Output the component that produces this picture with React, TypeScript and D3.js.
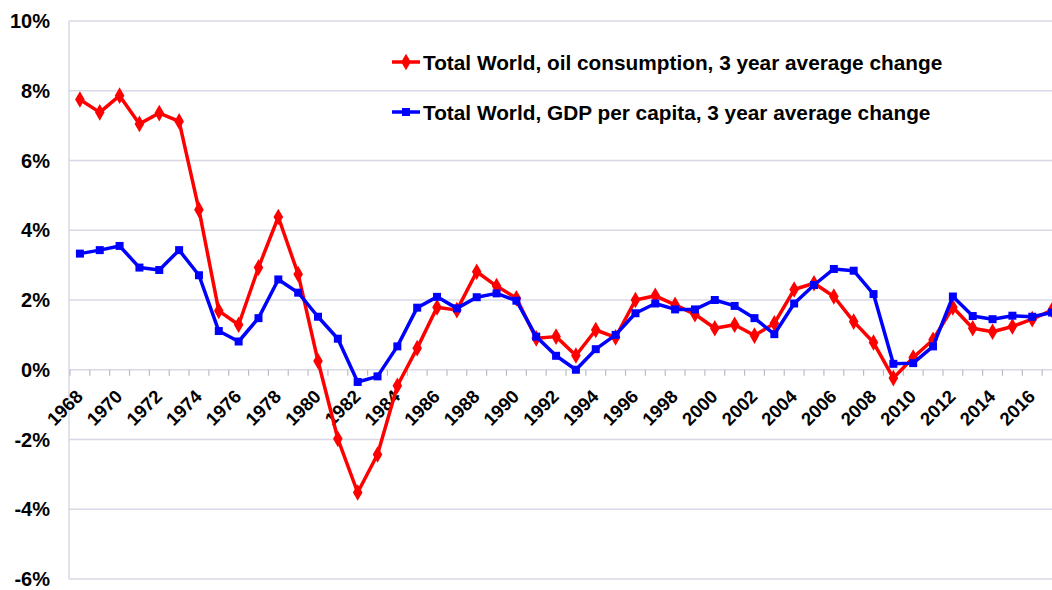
import React, { useEffect, useRef } from 'react';
import * as d3 from 'd3';

const years = d3.range(1968, 2018);

const oilChange = [
  7.75, 7.38, 7.86, 7.05, 7.36, 7.12, 4.59, 1.69, 1.29, 2.93,
  4.38, 2.74, 0.25, -1.98, -3.52, -2.43, -0.46, 0.62, 1.79, 1.71,
  2.81, 2.4, 2.05, 0.9, 0.95, 0.41, 1.14, 0.93, 2.0, 2.12,
  1.86, 1.59, 1.19, 1.29, 0.98, 1.33, 2.3, 2.48, 2.1, 1.38,
  0.78, -0.24, 0.35, 0.86, 1.79, 1.19, 1.09, 1.24, 1.45, 1.71,
];

const gdpChange = [
  3.33, 3.43, 3.55, 2.93, 2.86, 3.43, 2.71, 1.11, 0.81, 1.48,
  2.59, 2.21, 1.52, 0.89, -0.35, -0.19, 0.67, 1.78, 2.09, 1.76,
  2.08, 2.19, 1.98, 0.95, 0.4, 0.0, 0.59, 1.0, 1.62, 1.9,
  1.73, 1.73, 2.0, 1.83, 1.48, 1.02, 1.9, 2.43, 2.89, 2.84,
  2.17, 0.17, 0.19, 0.67, 2.1, 1.54, 1.45, 1.55, 1.52, 1.64,
];

const yTicks = [-6, -4, -2, 0, 2, 4, 6, 8, 10];

const seriesNames = [
  'Total World, oil consumption, 3 year average change',
  'Total World, GDP per capita, 3 year average change',
];

const App: React.FC = () => {
  const svgRef = useRef<SVGSVGElement>(null);

  useEffect(() => {
    document.body.style.margin = '0';
    if (!svgRef.current) return;

    const width = 1052;
    const height = 590;
    const font = '"Liberation Sans", Arial, sans-serif';
    const gridColor = '#d8d8e6';

    const svg = d3.select(svgRef.current);
    svg.selectAll('*').remove();
    svg.attr('width', width).attr('height', height).style('display', 'block').style('background', '#fff');

    const x = d3.scaleBand<number>()
      .domain(years)
      .range([70, 70 + years.length * 19.84]);
    const cx = (yr: number) => (x(yr) || 0) + x.bandwidth() / 2;

    const y = d3.scaleLinear().domain([-6, 10]).range([579, 21]);

    // gridlines
    svg.append('g')
      .selectAll('line')
      .data(yTicks)
      .join('line')
      .attr('x1', 69)
      .attr('x2', width)
      .attr('y1', d => y(d))
      .attr('y2', d => y(d))
      .attr('stroke', gridColor)
      .attr('stroke-width', 1.5);

    // vertical axis line
    svg.append('line')
      .attr('x1', 69).attr('x2', 69)
      .attr('y1', y(10)).attr('y2', y(-6))
      .attr('stroke', gridColor)
      .attr('stroke-width', 1.5);

    // y labels
    svg.append('g')
      .selectAll('text')
      .data(yTicks)
      .join('text')
      .attr('x', 50)
      .attr('y', d => y(d) + 7)
      .attr('text-anchor', 'end')
      .style('font-family', font)
      .style('font-weight', 'bold')
      .style('font-size', '20px')
      .text(d => `${d}%`);

    // category ticks on the zero line
    svg.append('g')
      .selectAll('line')
      .data(years.concat([2018]))
      .join('line')
      .attr('x1', (d, i) => 70 + i * x.step())
      .attr('x2', (d, i) => 70 + i * x.step())
      .attr('y1', y(0))
      .attr('y2', y(0) + 6)
      .attr('stroke', '#bcbcc8')
      .attr('stroke-width', 1.2);

    // x labels
    svg.append('g')
      .selectAll('text')
      .data(years.filter(d => d % 2 === 0))
      .join('text')
      .attr('transform', d => `translate(${cx(d) + 4},${y(0) + 28}) rotate(-45)`)
      .attr('text-anchor', 'end')
      .style('font-family', font)
      .style('font-weight', 'bold')
      .style('font-size', '18.5px')
      .text(d => d);

    const series = [
      { values: oilChange, color: '#ff0000', marker: d3.symbolDiamond, size: 80 },
      { values: gdpChange, color: '#0000ff', marker: d3.symbolSquare, size: 64 },
    ];

    series.forEach(s => {
      const pts = years.map((yr, i) => [cx(yr), y(s.values[i])] as [number, number]);
      svg.append('path')
        .attr('d', d3.line()(pts))
        .attr('fill', 'none')
        .attr('stroke', s.color)
        .attr('stroke-width', 3.5)
        .attr('stroke-linejoin', 'round');
      svg.append('g')
        .selectAll('path')
        .data(pts)
        .join('path')
        .attr('transform', d => `translate(${d[0]},${d[1]})`)
        .attr('d', d3.symbol().type(s.marker).size(s.size)())
        .attr('fill', s.color);
    });

    // legend
    const legend = svg.append('g');
    seriesNames.forEach((name, i) => {
      const s = series[i];
      const ly = i === 0 ? 62 : 112;
      legend.append('line')
        .attr('x1', 392).attr('x2', 420)
        .attr('y1', ly).attr('y2', ly)
        .attr('stroke', s.color)
        .attr('stroke-width', 3.5);
      legend.append('path')
        .attr('transform', `translate(406,${ly})`)
        .attr('d', d3.symbol().type(s.marker).size(s.size)())
        .attr('fill', s.color);
      legend.append('text')
        .attr('x', 423)
        .attr('y', ly + 7.5)
        .style('font-family', font)
        .style('font-weight', 'bold')
        .style('font-size', '20.8px')
        .text(name);
    });
  }, []);

  return <svg ref={svgRef}></svg>;
};

export default App;
